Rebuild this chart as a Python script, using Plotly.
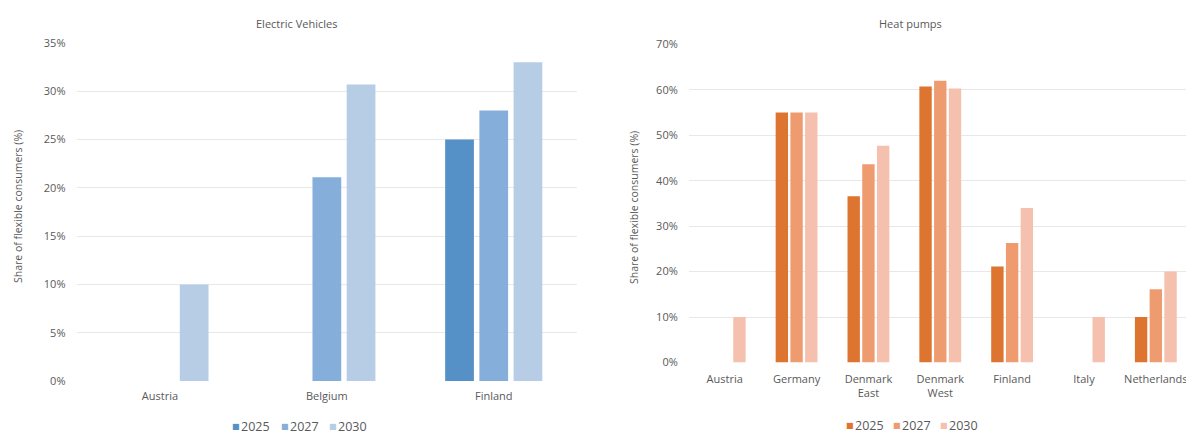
import plotly.graph_objects as go

# ---- data ----
ev_countries = ["Austria", "Belgium", "Finland"]
ev_2025 = [None, None, 25.0]
ev_2027 = [None, 21.1, 28.0]
ev_2030 = [10.0, 30.7, 33.0]

hp_countries = ["Austria", "Germany", "Denmark<br>East", "Denmark<br>West", "Finland", "Italy", "Netherlands"]
hp_2025 = [None, 55.0, 36.6, 60.7, 21.1, None, 10.0]
hp_2027 = [None, 55.0, 43.6, 62.0, 26.3, None, 16.1]
hp_2030 = [10.0, 55.0, 47.7, 60.3, 34.0, 10.0, 20.0]

years = ["2025", "2027", "2030"]
ev_colors = ["#5590C6", "#85AEDB", "#B7CDE6"]
hp_colors = ["#DD7430", "#EE9B70", "#F5C0AE"]

FONT = "Open Sans"
TXT = "#595959"
W, H = 1186, 434

fig = go.Figure()
for yr, vals, col in zip(years, [ev_2025, ev_2027, ev_2030], ev_colors):
    fig.add_trace(go.Bar(x=ev_countries, y=vals, name=yr, marker_color=col,
                         marker_line_width=0, xaxis="x", yaxis="y", showlegend=False))
for yr, vals, col in zip(years, [hp_2025, hp_2027, hp_2030], hp_colors):
    fig.add_trace(go.Bar(x=hp_countries, y=vals, name=yr, marker_color=col,
                         marker_line_width=0, xaxis="x2", yaxis="y2", showlegend=False))

def px_x(p):
    return p / W

def px_y(p):
    return (H - p) / H

axis_common = dict(showline=False, zeroline=False, ticks="", automargin=False,
                   tickfont=dict(family=FONT, size=11, color=TXT))

fig.update_layout(
    width=W, height=H,
    margin=dict(l=0, r=0, t=0, b=0, autoexpand=False),
    paper_bgcolor="white", plot_bgcolor="white",
    barmode="group", bargap=0.385, bargroupgap=0.16,
    font=dict(family=FONT, size=11, color=TXT),
    showlegend=False,
    xaxis=dict(domain=[px_x(76.5), px_x(577.2)], anchor="y", range=[-0.5, 2.5],
               showgrid=False, ticklabelstandoff=7, **axis_common),
    yaxis=dict(domain=[px_y(381), px_y(43)], anchor="x", range=[0, 35], dtick=5,
               ticksuffix="%", showgrid=True, gridcolor="#E8E8E8", gridwidth=1,
               ticklabelstandoff=10, **axis_common),
    xaxis2=dict(domain=[px_x(688.8), 1.0], anchor="y2", range=[-0.5, 6.42],
                showgrid=False, ticklabelstandoff=8, **axis_common),
    yaxis2=dict(domain=[px_y(362.5), px_y(44.3)], anchor="x2", range=[0, 70], dtick=10,
                ticksuffix="%", showgrid=True, gridcolor="#E8E8E8", gridwidth=1,
                ticklabelstandoff=10, **axis_common),
)

annotations = [
    dict(text="Electric Vehicles", x=px_x(296), y=px_y(24), xref="paper", yref="paper",
         showarrow=False, font=dict(family=FONT, size=11, color=TXT), xanchor="center", yanchor="middle"),
    dict(text="Heat pumps", x=px_x(910), y=px_y(23), xref="paper", yref="paper",
         showarrow=False, font=dict(family=FONT, size=11, color=TXT), xanchor="center", yanchor="middle"),
    dict(text="Share of flexible consumers (%)", x=px_x(18), y=px_y(207), xref="paper", yref="paper",
         showarrow=False, textangle=-90, font=dict(family=FONT, size=10.5, color=TXT),
         xanchor="center", yanchor="middle"),
    dict(text="Share of flexible consumers (%)", x=px_x(634), y=px_y(207), xref="paper", yref="paper",
         showarrow=False, textangle=-90, font=dict(family=FONT, size=10.5, color=TXT),
         xanchor="center", yanchor="middle"),
]

# legends built from the series names and colours
def legend_annots(start_x, center_y, colors, pitch):
    out = []
    for i, (yr, col) in enumerate(zip(years, colors)):
        out.append(dict(text="■", x=px_x(start_x + i * pitch),
                        y=px_y(center_y), xref="paper", yref="paper", showarrow=False,
                        font=dict(family="DejaVu Sans", size=8, color=col),
                        xanchor="left", yanchor="middle", borderpad=0))
        out.append(dict(text=yr, x=px_x(start_x + i * pitch + 9), y=px_y(center_y),
                        xref="paper", yref="paper", showarrow=False,
                        font=dict(family=FONT, size=12.5, color=TXT),
                        xanchor="left", yanchor="middle", borderpad=0))
    return out

annotations += legend_annots(231, 426, ev_colors, 48.5)
annotations += legend_annots(845, 425, hp_colors, 47)
fig.update_layout(annotations=annotations)

fig.write_html("out.html")
